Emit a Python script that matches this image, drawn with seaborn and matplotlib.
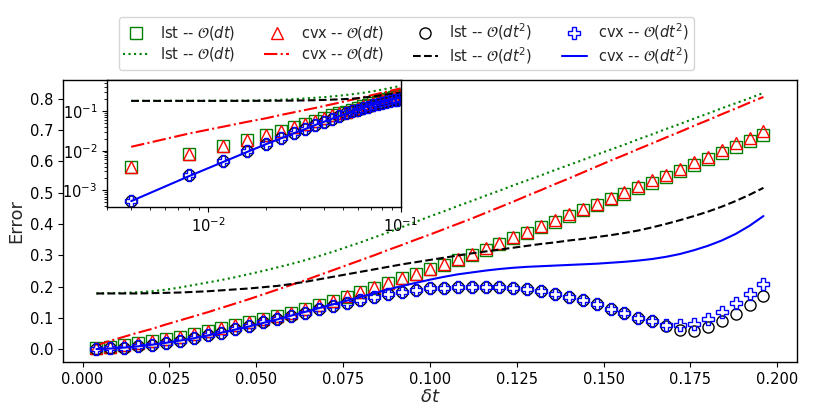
import numpy as np
import matplotlib
matplotlib.use("Agg")
import matplotlib.pyplot as plt
import seaborn as sns

# --- data ---
dt = [0.004, 0.008, 0.012, 0.016, 0.020, 0.024, 0.028, 0.032, 0.036, 0.040,
      0.044, 0.048, 0.052, 0.056, 0.060, 0.064, 0.068, 0.072, 0.076, 0.080,
      0.084, 0.088, 0.092, 0.096, 0.100, 0.104, 0.108, 0.112, 0.116, 0.120,
      0.124, 0.128, 0.132, 0.136, 0.140, 0.144, 0.148, 0.152, 0.156, 0.160,
      0.164, 0.168, 0.172, 0.176, 0.180, 0.184, 0.188, 0.192, 0.196]

# markers
lst_dt_pts = [0.0038, 0.0082, 0.0132, 0.019, 0.025, 0.032, 0.040, 0.048, 0.057, 0.067,
              0.077, 0.086, 0.095, 0.105, 0.117, 0.129, 0.142, 0.155, 0.168, 0.182,
              0.197, 0.211, 0.226, 0.240, 0.255, 0.270, 0.286, 0.302, 0.318, 0.336,
              0.354, 0.371, 0.389, 0.406, 0.425, 0.443, 0.460, 0.478, 0.496, 0.514,
              0.532, 0.550, 0.569, 0.588, 0.606, 0.626, 0.646, 0.664, 0.683]
cvx_dt_pts = [0.0038, 0.0082, 0.0132, 0.019, 0.025, 0.032, 0.040, 0.048, 0.057, 0.067,
              0.077, 0.086, 0.095, 0.105, 0.117, 0.129, 0.142, 0.155, 0.169, 0.183,
              0.198, 0.212, 0.227, 0.241, 0.256, 0.272, 0.288, 0.305, 0.322, 0.340,
              0.358, 0.375, 0.393, 0.411, 0.430, 0.448, 0.465, 0.483, 0.501, 0.520,
              0.539, 0.557, 0.576, 0.597, 0.615, 0.636, 0.657, 0.675, 0.696]
lst_dt2_pts = [0.00054, 0.00245, 0.0054, 0.0098, 0.0145, 0.0206, 0.0278, 0.0348, 0.044, 0.053,
               0.063, 0.074, 0.086, 0.097, 0.107, 0.117, 0.127, 0.137, 0.147, 0.156,
               0.166, 0.177, 0.184, 0.190, 0.194, 0.196, 0.198, 0.199, 0.200, 0.199,
               0.196, 0.191, 0.185, 0.177, 0.167, 0.156, 0.143, 0.130, 0.116, 0.101,
               0.089, 0.073, 0.060, 0.059, 0.070, 0.091, 0.114, 0.140, 0.170]
cvx_dt2_pts = [0.00054, 0.00245, 0.0054, 0.0098, 0.0145, 0.0206, 0.0278, 0.0348, 0.044, 0.053,
               0.063, 0.074, 0.086, 0.097, 0.107, 0.117, 0.127, 0.137, 0.147, 0.156,
               0.166, 0.177, 0.184, 0.190, 0.194, 0.196, 0.198, 0.199, 0.200, 0.199,
               0.196, 0.191, 0.185, 0.177, 0.167, 0.156, 0.143, 0.130, 0.116, 0.101,
               0.090, 0.077, 0.076, 0.082, 0.098, 0.119, 0.146, 0.175, 0.207]

# lines
lst_dt_line = [0.178, 0.179, 0.180, 0.182, 0.185, 0.190, 0.197, 0.205, 0.213, 0.221,
               0.230, 0.240, 0.250, 0.261, 0.272, 0.284, 0.297, 0.311, 0.326, 0.341,
               0.357, 0.373, 0.390, 0.407, 0.424, 0.440, 0.457, 0.473, 0.490, 0.506,
               0.523, 0.539, 0.555, 0.572, 0.588, 0.604, 0.621, 0.637, 0.653, 0.670,
               0.686, 0.703, 0.719, 0.736, 0.752, 0.769, 0.785, 0.801, 0.818]
cvx_dt_line = [0.0125, 0.027, 0.040, 0.053, 0.065, 0.079, 0.092, 0.105, 0.118, 0.132,
               0.146, 0.160, 0.175, 0.190, 0.205, 0.220, 0.236, 0.252, 0.268, 0.284,
               0.300, 0.317, 0.333, 0.350, 0.366, 0.383, 0.400, 0.417, 0.435, 0.453,
               0.471, 0.490, 0.508, 0.527, 0.545, 0.564, 0.583, 0.602, 0.620, 0.639,
               0.657, 0.676, 0.694, 0.713, 0.731, 0.750, 0.768, 0.787, 0.805]
lst_dt2_line = [0.178, 0.178, 0.178, 0.178, 0.179, 0.180, 0.181, 0.183, 0.185, 0.188,
                0.191, 0.194, 0.198, 0.202, 0.208, 0.215, 0.223, 0.231, 0.239, 0.247,
                0.255, 0.263, 0.271, 0.278, 0.285, 0.292, 0.299, 0.306, 0.312, 0.318,
                0.324, 0.330, 0.336, 0.341, 0.347, 0.352, 0.358, 0.364, 0.371, 0.379,
                0.389, 0.400, 0.412, 0.425, 0.439, 0.455, 0.473, 0.493, 0.515]
cvx_dt2_line = [0.00054, 0.0023, 0.0052, 0.0093, 0.0145, 0.0205, 0.0275, 0.035, 0.044, 0.053,
                0.063, 0.073, 0.084, 0.095, 0.107, 0.119, 0.131, 0.143, 0.155, 0.167,
                0.179, 0.191, 0.202, 0.212, 0.222, 0.231, 0.239, 0.245, 0.251, 0.256,
                0.260, 0.263, 0.265, 0.267, 0.269, 0.271, 0.273, 0.276, 0.279, 0.283,
                0.288, 0.295, 0.304, 0.316, 0.330, 0.347, 0.368, 0.394, 0.425]

labels = [r"lst -- $\mathcal{O}(dt)$", r"cvx -- $\mathcal{O}(dt)$",
          r"lst -- $\mathcal{O}(dt^2)$", r"cvx -- $\mathcal{O}(dt^2)$"]

sns.set_style("ticks")
plt.rcParams['font.family'] = ['DejaVu Sans']
plt.rcParams.update({'xtick.labelsize': 10.5, 'ytick.labelsize': 10.5,
                     'axes.edgecolor': 'black', 'xtick.color': 'black',
                     'ytick.color': 'black', 'axes.linewidth': 1.0})

fig = plt.figure(figsize=(8.3, 4.15), dpi=100)
ax = fig.add_axes([0.076, 0.128, 0.884, 0.679])
ins = ax.inset_axes([0.06, 0.55, 0.4, 0.45])


def draw(a, n, with_labels):
    x = dt[:n]
    lab = (lambda s: s) if with_labels else (lambda s: None)
    mk = dict(linestyle='', ms=8, mfc='none', mew=1.0)
    sns.lineplot(x=x, y=lst_dt_pts[:n], ax=a, marker='s', mec='g', color='g', label=lab(labels[0]), **mk)
    sns.lineplot(x=x, y=lst_dt_line[:n], ax=a, color='g', linestyle=':', lw=1.5, label=lab(labels[0]))
    sns.lineplot(x=x, y=cvx_dt_pts[:n], ax=a, marker='^', mec='r', color='r', label=lab(labels[1]), **mk)
    sns.lineplot(x=x, y=cvx_dt_line[:n], ax=a, color='r', linestyle='-.', lw=1.5, label=lab(labels[1]))
    sns.lineplot(x=x, y=lst_dt2_pts[:n], ax=a, marker='o', mec='k', color='k', label=lab(labels[2]), **mk)
    sns.lineplot(x=x, y=lst_dt2_line[:n], ax=a, color='k', linestyle='--', lw=1.5, label=lab(labels[2]))
    sns.lineplot(x=x, y=cvx_dt2_pts[:n], ax=a, marker='P', mec='b', color='b', label=lab(labels[3]), **mk)
    sns.lineplot(x=x, y=cvx_dt2_line[:n], ax=a, color='b', linestyle='-', lw=1.5, label=lab(labels[3]))


draw(ax, len(dt), True)
draw(ins, 25, False)

ax.set_xlabel(r"$\delta t$", fontsize=13, labelpad=1)
ax.set_ylabel("Error", fontsize=13, labelpad=3)
for s in ax.spines.values():
    s.set_visible(True)

ins.set_xscale('log')
ins.set_yscale('log')
ins.set_xlim(0.003, 0.1)
ins.set_xlabel('')
ins.set_ylabel('')
for s in ins.spines.values():
    s.set_visible(True)
if ins.get_legend() is not None:
    ins.get_legend().remove()

handles, labs = ax.get_legend_handles_labels()
ax.legend(handles, labs, ncol=4, loc='lower center', bbox_to_anchor=(0.468, 1.035),
          fontsize=10.5, frameon=True, borderaxespad=0.0, labelspacing=0.2,
          borderpad=0.3, handlelength=1.7)

fig.savefig("out.png", dpi=100)
